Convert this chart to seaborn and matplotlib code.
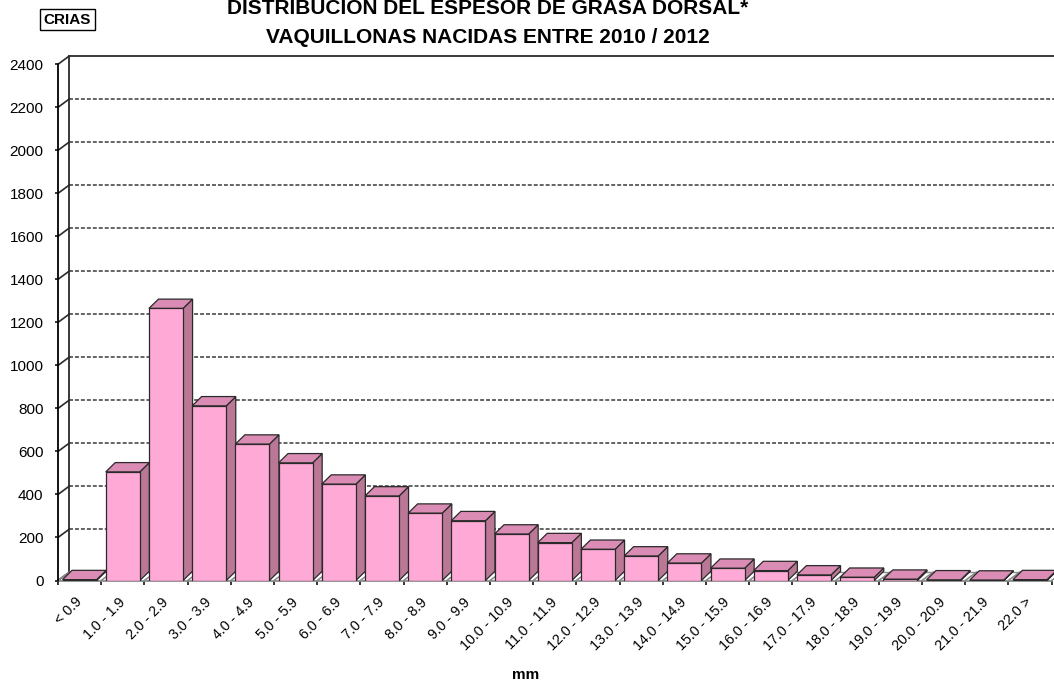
import numpy as np
import pandas as pd
import matplotlib
matplotlib.use("Agg")
import matplotlib.pyplot as plt
from matplotlib.patches import Polygon
import seaborn as sns

# Fat-thickness classes (mm) and number of heifers in each class
categories = ["< 0.9", "1.0 - 1.9", "2.0 - 2.9", "3.0 - 3.9", "4.0 - 4.9",
              "5.0 - 5.9", "6.0 - 6.9", "7.0 - 7.9", "8.0 - 8.9", "9.0 - 9.9",
              "10.0 - 10.9", "11.0 - 11.9", "12.0 - 12.9", "13.0 - 13.9",
              "14.0 - 14.9", "15.0 - 15.9", "16.0 - 16.9", "17.0 - 17.9",
              "18.0 - 18.9", "19.0 - 19.9", "20.0 - 20.9", "21.0 - 21.9",
              "22.0 >"]
counts = [4, 505, 1265, 812, 634, 547, 448, 393, 313, 278, 216, 176, 145, 114,
          81, 57, 46, 26, 15, 6, 3, 2, 4]
y_ticks = [0, 200, 400, 600, 800, 1000, 1200, 1400, 1600, 1800, 2000, 2200, 2400]

title_line1 = "DISTRIBUCION DEL ESPESOR DE GRASA DORSAL*"
title_line2 = "VAQUILLONAS NACIDAS ENTRE 2010 / 2012"
corner_label = "CRIAS"
x_label = "mm"

FRONT = "#FFAAD6"
SIDE = "#BA7896"
TOP = "#DA8CB4"
EDGE = "#2a2a2a"
GRID = "#3a3a3a"
FLOOR = "#8a8a8a"

sns.set_theme(style="white")
plt.rcParams["font.family"] = ["Liberation Sans", "DejaVu Sans"]
plt.rcParams["text.color"] = "black"
plt.rcParams["xtick.color"] = "black"
plt.rcParams["ytick.color"] = "black"
plt.rcParams["xtick.labelcolor"] = "black"
plt.rcParams["ytick.labelcolor"] = "black"

W, H = 1054, 683
fig = plt.figure(figsize=(W / 100, H / 100), dpi=100)
fig.patch.set_facecolor("white")

# front plane of the 3-D box, in pixels
left_px, right_px = 58.0, 1051.6
bottom_px, top_px = 580.5, 64.3
ax = fig.add_axes([left_px / W, (H - bottom_px) / H,
                   (right_px - left_px) / W, (bottom_px - top_px) / H])
ax.patch.set_alpha(0)

df = pd.DataFrame({"rango": categories, "vaquillonas": counts})
sns.barplot(data=df, x="rango", y="vaquillonas", order=categories, ax=ax,
            color=FRONT, saturation=1, width=0.79, edgecolor=EDGE,
            linewidth=0.9, errorbar=None, zorder=3)

n = len(categories)
ax.set_xlim(-0.5, n - 0.5)
ax.set_ylim(0, 2400)
for s in ax.spines.values():
    s.set_visible(False)
ax.set_xlabel("")
ax.set_ylabel("")


def depth(dx_px, dy_px):
    """Convert a pixel offset into data units of the axes."""
    x0, y0 = ax.transData.transform((0, 0))
    x1, y1 = ax.transData.inverted().transform((x0 + dx_px, y0 + dy_px))
    return x1, y1


wall_dx, wall_dy = depth(11.5, 8.5)
bar_dx, bar_dy = depth(9.5, 9.3)

x_left = -0.5
x_far = n + 2

# back wall: dashed gridlines and solid top edge
for v in y_ticks[1:-1]:
    ax.plot([x_left + wall_dx, x_far], [v + wall_dy] * 2, color=GRID,
            lw=1.1, ls=(0, (2.6, 1.3)), zorder=1, clip_on=False)
ax.plot([x_left + wall_dx, x_far], [2400 + wall_dy] * 2, color=GRID,
        lw=1.4, zorder=1, clip_on=False)

# left side wall
ax.plot([x_left + wall_dx] * 2, [wall_dy, 2400 + wall_dy], color=EDGE,
        lw=1.3, zorder=1.2, clip_on=False)
for v in y_ticks:
    ax.plot([x_left, x_left + wall_dx], [v, v + wall_dy], color=EDGE,
            lw=1.2, zorder=1.2, clip_on=False)
ax.plot([x_left, x_left], [0, 2400], color="black", lw=1.3, zorder=4,
        clip_on=False)

# floor
ax.plot([x_left + wall_dx, x_far], [wall_dy] * 2, color=FLOOR, lw=1.0,
        zorder=1, clip_on=False)
for i in range(n + 1):
    ax.plot([x_left + i, x_left + i + wall_dx], [0, wall_dy], color=FLOOR,
            lw=1.2, zorder=1.5, clip_on=False)
ax.plot([x_left, n - 0.5], [0, 0], color=FLOOR, lw=1.3, zorder=2,
        clip_on=False)

# side and top faces of each column
for p in list(ax.patches):
    x0, w, h = p.get_x(), p.get_width(), p.get_height()
    x1 = x0 + w
    side = Polygon([(x1, 0), (x1 + bar_dx, bar_dy), (x1 + bar_dx, h + bar_dy),
                    (x1, h)], closed=True, facecolor=SIDE, edgecolor=EDGE,
                   lw=0.9, zorder=2.8, clip_on=False)
    top = Polygon([(x0, h), (x1, h), (x1 + bar_dx, h + bar_dy),
                   (x0 + bar_dx, h + bar_dy)], closed=True, facecolor=TOP,
                  edgecolor=EDGE, lw=0.9, zorder=2.9, clip_on=False)
    ax.add_patch(side)
    ax.add_patch(top)

# ticks
ax.set_yticks(y_ticks)
ax.set_yticklabels([str(v) for v in y_ticks])
ax.tick_params(axis="y", which="major", left=True, length=2.4, width=1.1,
               color="black", pad=8, labelsize=11, direction="out")
ax.set_xticks(range(n))
ax.set_xticks(np.arange(n + 1) - 0.5, minor=True)
ax.tick_params(axis="x", which="major", bottom=True, length=0, pad=14,
               labelsize=10.3)
ax.tick_params(axis="x", which="minor", bottom=True, length=3, width=1.1,
               color="black", direction="out")
for lab in ax.get_xticklabels():
    lab.set(rotation=45, ha="right", va="center", rotation_mode="anchor")

# titles and labels
fig.text(488 / W, 1 - 14.5 / H, title_line1, ha="center", va="baseline",
         fontsize=15, fontweight="bold")
fig.text(488 / W, 1 - 43 / H, title_line2, ha="center", va="baseline",
         fontsize=15, fontweight="bold")
fig.text(67.5 / W, 1 - 19.5 / H, corner_label, ha="center", va="center",
         fontsize=11, fontweight="bold",
         bbox=dict(boxstyle="square,pad=0.25", facecolor="white",
                   edgecolor="black", lw=1))
fig.text(525.5 / W, 1 - 675 / H, x_label, ha="center", va="center",
         fontsize=11, fontweight="bold")

fig.savefig("out.png", dpi=100, facecolor="white")
